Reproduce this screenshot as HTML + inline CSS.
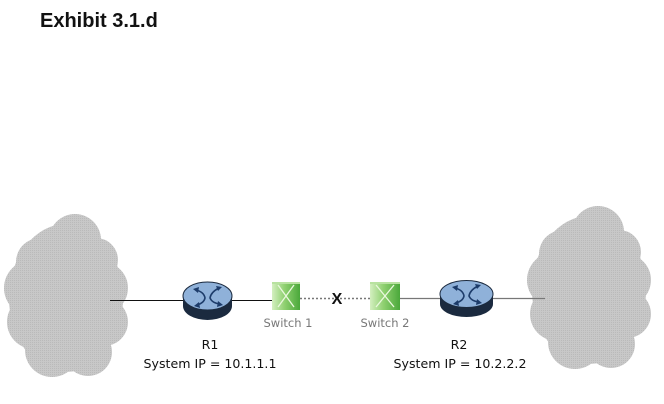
<!DOCTYPE html>
<html><head><meta charset="utf-8"><style>
html,body{margin:0;padding:0;background:#fff;}
svg{display:block;}
</style></head><body>
<svg width="664" height="404" viewBox="0 0 664 404" xmlns="http://www.w3.org/2000/svg">
<defs>
<linearGradient id="sw" x1="0" y1="0" x2="1" y2="0">
<stop offset="0" stop-color="#d4efc0"/><stop offset="0.45" stop-color="#8fd070"/><stop offset="1" stop-color="#4aa83a"/>
</linearGradient>
<pattern id="dots" width="2" height="2" patternUnits="userSpaceOnUse">
<rect width="2" height="2" fill="#c8c8c8"/><rect width="1" height="1" fill="#bababa"/>
</pattern>
<g id="cloud">
<ellipse cx="66" cy="298" rx="57" ry="74"/>
<circle cx="75" cy="240" r="26"/>
<circle cx="40" cy="262" r="24"/>
<circle cx="32" cy="288" r="28"/>
<circle cx="34" cy="322" r="27"/>
<circle cx="52" cy="350" r="27"/>
<circle cx="88" cy="352" r="24"/>
<circle cx="104" cy="322" r="24"/>
<circle cx="102" cy="288" r="26"/>
<circle cx="96" cy="260" r="22"/>
</g>
</defs>
<rect width="664" height="404" fill="#fff"/>
<text x="40" y="27" font-family="Liberation Sans, sans-serif" font-weight="bold" font-size="20" fill="#111">Exhibit 3.1.d</text>

<!-- clouds -->
<g fill="url(#dots)">
<use href="#cloud"/>
<use href="#cloud" transform="translate(523,-8)"/>
</g>

<!-- connectors -->
<line x1="110" y1="300.5" x2="184" y2="300.5" stroke="#111" stroke-width="1"/>
<line x1="231" y1="300.5" x2="273" y2="300.5" stroke="#111" stroke-width="1"/>
<line x1="300" y1="298.5" x2="371" y2="298.5" stroke="#777" stroke-width="1.5" stroke-dasharray="2,2"/>
<line x1="399" y1="298.5" x2="441" y2="298.5" stroke="#777" stroke-width="1.2"/>
<line x1="492" y1="298.5" x2="545" y2="298.5" stroke="#777" stroke-width="1.2"/>
<text x="337" y="304" text-anchor="middle" font-family="Liberation Sans, sans-serif" font-weight="bold" font-size="16" fill="#111">X</text>

<!-- R1 -->
<g>
<path d="M183 296 L183 306 A24.5 14 0 0 0 232 306 L232 296 Z" fill="#1b2a3f"/>
<ellipse cx="207.5" cy="296" rx="24.5" ry="14" fill="#8fb1d9" stroke="#1b2a3f" stroke-width="1"/>
<g fill="none" stroke="#1d3c6a" stroke-width="1.6">
<path d="M196 290 Q204 292 205 298 Q204 303 197 305"/>
<path d="M219 288 Q211 292 210 298 Q212 303 220 304"/>
</g>
<g fill="#1d3c6a">
<polygon points="193,289 199,287 198,293"/>
<polygon points="222,287 216,286 218,291"/>
<polygon points="194,306 199,302 200,308"/>
<polygon points="223,305 218,301 217,307"/>
</g>
</g>

<!-- R2 -->
<g>
<path d="M440 294 L440 304 A26.5 13 0 0 0 493 304 L493 294 Z" fill="#1b2a3f"/>
<ellipse cx="466.5" cy="294" rx="26.5" ry="13.5" fill="#8fb1d9" stroke="#1b2a3f" stroke-width="1"/>
<g fill="none" stroke="#1d3c6a" stroke-width="1.6">
<path d="M455 288 Q463 290 464 296 Q463 301 456 303"/>
<path d="M478 286 Q470 290 469 296 Q471 301 479 302"/>
</g>
<g fill="#1d3c6a">
<polygon points="452,287 458,285 457,291"/>
<polygon points="481,285 475,284 477,289"/>
<polygon points="453,304 458,300 459,306"/>
<polygon points="482,303 477,299 476,305"/>
</g>
</g>

<!-- switches -->
<g>
<rect x="272" y="282" width="28" height="28" fill="url(#sw)"/>
<rect x="272" y="282" width="28" height="2" fill="#b8e2a0"/>
<path d="M278 285 Q286 296 294 307 M294 285 Q286 296 278 307" fill="none" stroke="#eaf8de" stroke-width="1.3"/>
</g>
<g>
<rect x="370" y="282" width="30" height="28" fill="url(#sw)"/>
<rect x="370" y="282" width="30" height="2" fill="#b8e2a0"/>
<path d="M376 285 Q385 296 394 307 M394 285 Q385 296 376 307" fill="none" stroke="#eaf8de" stroke-width="1.3"/>
</g>

<!-- labels -->
<g font-family="DejaVu Sans, Liberation Sans, sans-serif" fill="#777" font-size="11.5" text-anchor="middle">
<text x="288" y="327">Switch 1</text>
<text x="385" y="327">Switch 2</text>
</g>
<g font-family="DejaVu Sans, Liberation Sans, sans-serif" fill="#111" font-size="12.6" text-anchor="middle">
<text x="210" y="349">R1</text>
<text x="210" y="368">System IP = 10.1.1.1</text>
<text x="459" y="349">R2</text>
<text x="460" y="368">System IP = 10.2.2.2</text>
</g>
</svg>
</body></html>
